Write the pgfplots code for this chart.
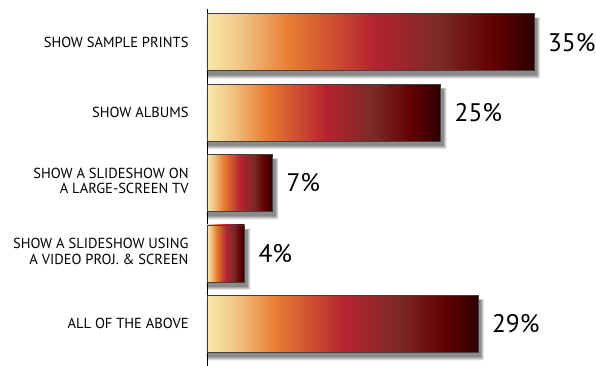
\documentclass[border=0pt]{standalone}
\usepackage{pgfplots}
\pgfplotsset{compat=1.18}
\usepackage{fontspec}
\setmainfont{PT Sans}
\definecolor{c0}{HTML}{F6E8AA}
\definecolor{c1}{HTML}{F2C687}
\definecolor{c2}{HTML}{E97D32}
\definecolor{c3}{HTML}{B5232F}
\definecolor{c4}{HTML}{7C2A26}
\definecolor{c5}{HTML}{640202}
\definecolor{c6}{HTML}{2E0000}
\pgfdeclarehorizontalshading{barshade}{100bp}{color(0bp)=(c0); color(25bp)=(c0); color(30bp)=(c1); color(37.5bp)=(c2); color(50.5bp)=(c3); color(60.5bp)=(c4); color(68.5bp)=(c5); color(75bp)=(c6); color(100bp)=(c6)}
\pgfplotstableread{
y v s1 s2 s3 s4
0 29 29.35 29.45 29.55 29.65
1 4 4.35 4.45 4.55 4.65
2 7 7.35 7.45 7.55 7.65
3 25 25.35 25.45 25.55 25.65
4 35 35.35 35.45 35.55 35.65
}\data
\newcommand{\twoline}[3]{\raisebox{#1}{\begin{tabular}{@{}r@{}}#2\\#3\end{tabular}}}
\begin{document}
\begin{tikzpicture}
\begin{axis}[
  scale only axis,
  width=373.6bp, height=357.4bp,
  xmin=0, xmax=40,
  ymin=-0.6, ymax=4.476,
  axis x line=none,
  axis y line*=left,
  y axis line style={-, line width=0.8bp, black},
  ytick={0,1,2,3,4},
  yticklabels={{ALL OF THE ABOVE},{\twoline{-2bp}{SHOW A SLIDESHOW USING}{A VIDEO PROJ. \& SCREEN}},{\twoline{-7bp}{SHOW A SLIDESHOW ON}{A LARGE-SCREEN TV}},{SHOW ALBUMS},{SHOW SAMPLE PRINTS}},
  ytick style={draw=none},
  yticklabel style={anchor=east, inner sep=0pt, xshift=-14bp, font=\fontsize{14.6}{15.5}\selectfont, text=black},
  xbar, bar shift=0pt,
  /pgf/number format/assume math mode=true,
  clip=false,
  mybar/.style={draw=black!75, line width=0.5bp, shading=barshade, bar width=0.81,
    nodes near coords={\pgfmathprintnumber{\pgfplotspointmeta}\%},
    every node near coord/.append style={anchor=west, inner sep=0pt, xshift=14bp, font=\fontsize{25.5}{26}\selectfont, text=black}},
]
\addplot[forget plot, draw=none, fill=black, fill opacity=0.11, bar width=0.87, bar shift=-0.085] table[x=s4,y=y]{\data};
\addplot[forget plot, draw=none, fill=black, fill opacity=0.13, bar width=0.85, bar shift=-0.08] table[x=s3,y=y]{\data};
\addplot[forget plot, draw=none, fill=black, fill opacity=0.15, bar width=0.83, bar shift=-0.075] table[x=s2,y=y]{\data};
\addplot[forget plot, draw=none, fill=black, fill opacity=0.18, bar width=0.81, bar shift=-0.07] table[x=s1,y=y]{\data};
\addplot[mybar] coordinates {(29,0)};
\addplot[mybar] coordinates {(4,1)};
\addplot[mybar] coordinates {(7,2)};
\addplot[mybar] coordinates {(25,3)};
\addplot[mybar] coordinates {(35,4)};
\coordinate (O) at (rel axis cs:0,0);
\end{axis}
\pgfresetboundingbox
\path ([shift={(-207bp,0bp)}]O) rectangle ([shift={(389bp,366bp)}]O);
\end{tikzpicture}
\end{document}
